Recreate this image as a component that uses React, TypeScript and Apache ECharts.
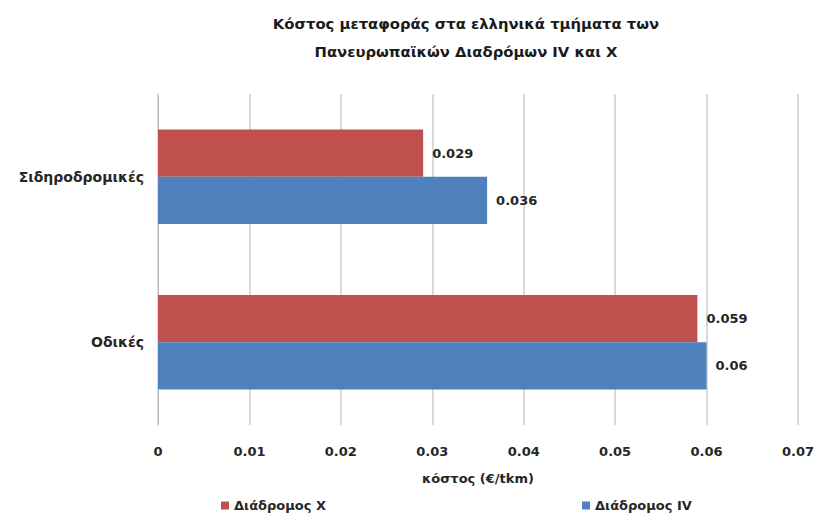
import React, { useEffect, useRef } from "react";
import * as echarts from "echarts";

const categories = ["Σιδηροδρομικές", "Οδικές"];
const seriesNames = ["Διάδρομος X", "Διάδρομος IV"];
const corridorX = [0.029, 0.059];
const corridorIV = [0.036, 0.06];
const xTicks = { min: 0, max: 0.07, interval: 0.01 };

const FONT = "'DejaVu Sans', sans-serif";
const TXT = "#262626";

export default function App() {
  const ref = useRef<HTMLDivElement>(null);
  useEffect(() => {
    if (!ref.current) return;
    const chart = echarts.init(ref.current, undefined, { renderer: "svg" });
    const legendText = { fontFamily: FONT, fontSize: 13, fontWeight: "bold", color: TXT };
    const labelStyle = {
      show: true,
      position: "right",
      distance: 9,
      fontFamily: FONT,
      fontSize: 13,
      fontWeight: "bold",
      color: TXT,
    };
    chart.setOption({
      animation: false,
      backgroundColor: "#ffffff",
      textStyle: { fontFamily: FONT },
      title: {
        text: "Κόστος μεταφοράς στα ελληνικά τμήματα των\nΠανευρωπαϊκών Διαδρόμων IV και X",
        left: 461,
        textAlign: "center",
        top: 4,
        textStyle: {
          fontFamily: FONT,
          fontSize: 14.8,
          fontWeight: "bold",
          color: "#1a1a1a",
          lineHeight: 28,
        },
      },
      legend: [
        {
          data: [seriesNames[0]],
          left: 221,
          top: 499,
          padding: 0,
          itemWidth: 8,
          itemHeight: 8,
          itemGap: 5,
          icon: "rect",
          textStyle: legendText,
        },
        {
          data: [seriesNames[1]],
          left: 582,
          top: 499,
          padding: 0,
          itemWidth: 8,
          itemHeight: 8,
          itemGap: 5,
          icon: "rect",
          textStyle: legendText,
        },
      ],
      grid: { left: 158, right: 17, top: 94, bottom: 93, containLabel: false },
      xAxis: {
        type: "value",
        min: xTicks.min,
        max: xTicks.max,
        interval: xTicks.interval,
        name: "κόστος (€/tkm)",
        nameLocation: "middle",
        nameGap: 47,
        nameTextStyle: { fontFamily: FONT, fontSize: 13, fontWeight: "bold", color: TXT },
        axisLine: { show: false },
        axisTick: { show: false },
        axisLabel: {
          margin: 20,
          fontFamily: FONT,
          fontSize: 13,
          fontWeight: "bold",
          color: TXT,
          formatter: (v: number) => String(Math.round(v * 100) / 100),
        },
        splitLine: { show: true, lineStyle: { color: "#d9d9d9", width: 2 } },
      },
      yAxis: {
        type: "category",
        data: categories,
        inverse: true,
        axisLine: { show: true, lineStyle: { color: "#bfbfbf", width: 1 } },
        axisTick: { show: false },
        axisLabel: {
          margin: 14,
          fontFamily: FONT,
          fontSize: 14,
          fontWeight: "bold",
          color: TXT,
        },
      },
      series: [
        {
          name: seriesNames[0],
          type: "bar",
          data: corridorX,
          barGap: "0%",
          barCategoryGap: "43%",
          itemStyle: { color: "#c0504d" },
          label: labelStyle,
        },
        {
          name: seriesNames[1],
          type: "bar",
          data: corridorIV,
          barGap: "0%",
          barCategoryGap: "43%",
          itemStyle: { color: "#4f81bd" },
          label: labelStyle,
        },
      ],
    });
    return () => chart.dispose();
  }, []);
  return (
    <div
      ref={ref}
      style={{ position: "absolute", left: 0, top: 0, width: 817, height: 518 }}
    />
  );
}
